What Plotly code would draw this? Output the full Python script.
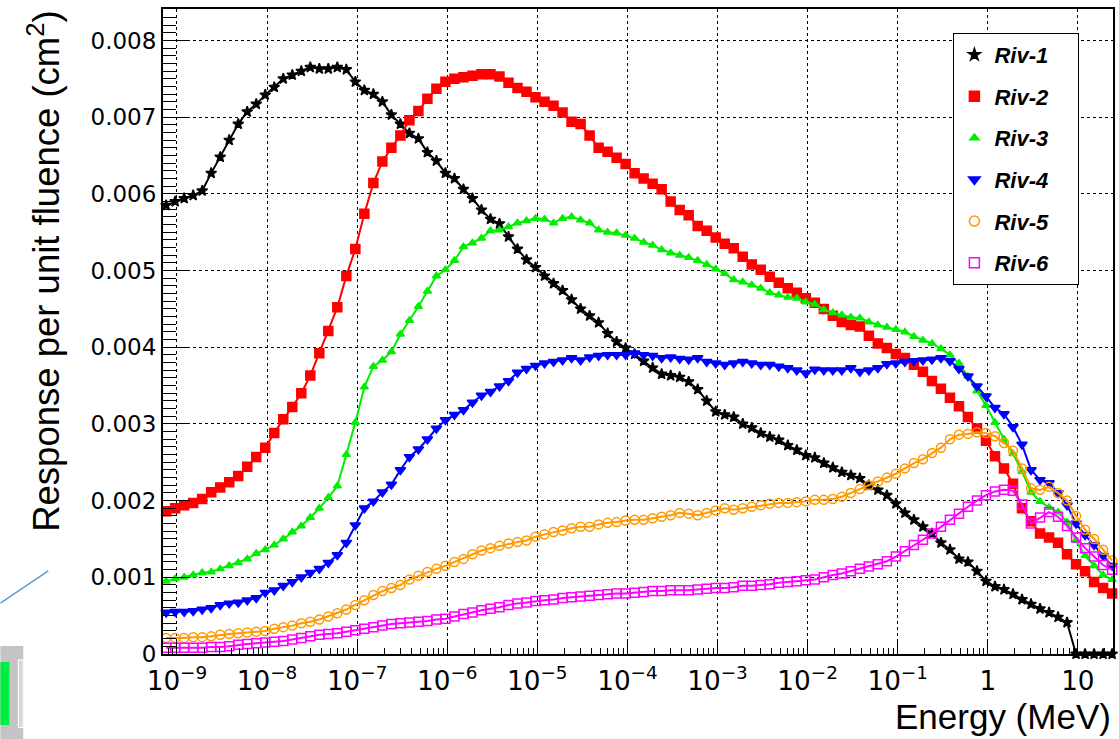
import plotly.graph_objects as go

# ---- data -------------------------------------------------------------
# energy grid (log10 of MeV), ~10 points per decade
LOG_E_START = -9.12
N_POINTS = 106
energy_mev = [10 ** round(LOG_E_START + 0.1 * i, 3) for i in range(N_POINTS)]

series_names = ["Riv-1", "Riv-2", "Riv-3", "Riv-4", "Riv-5", "Riv-6"]

riv1 = [0.00585, 0.0059, 0.00594, 0.00598, 0.00604, 0.00627, 0.00648, 0.0067, 0.00691, 0.00707,
        0.00717, 0.00729, 0.00739, 0.0075, 0.00755, 0.0076, 0.00765, 0.00763, 0.00763, 0.00765,
        0.00762, 0.00746, 0.00735, 0.0073, 0.0072, 0.00703, 0.00691, 0.00679, 0.00672, 0.00654,
        0.00643, 0.00627, 0.0062, 0.00606, 0.00594, 0.00579, 0.00567, 0.00561, 0.00544, 0.00528,
        0.00514, 0.00504, 0.00493, 0.00483, 0.00474, 0.00462, 0.0045, 0.00441, 0.00432, 0.00418,
        0.00407, 0.00399, 0.00391, 0.00382, 0.00373, 0.00365, 0.00363, 0.00361, 0.00355, 0.00345,
        0.0033, 0.00316, 0.00312, 0.00309, 0.003, 0.00295, 0.00288, 0.00283, 0.00279, 0.00272,
        0.00266, 0.00259, 0.00256, 0.00249, 0.00243, 0.00237, 0.00233, 0.00229, 0.0022, 0.00214,
        0.00207, 0.00196, 0.00184, 0.00175, 0.00166, 0.00157, 0.00145, 0.00136, 0.00124, 0.0012,
        0.00108, 0.00095, 0.00088, 0.00084, 0.00078, 0.00071, 0.00065, 0.00059, 0.00054, 0.00048,
        0.00041, 0.0, 0.0, 0.0, 0.0, 0.0]

riv2 = [0.00186, 0.0019, 0.00194, 0.00197, 0.00202, 0.00211, 0.00217, 0.00224, 0.00232, 0.00244,
        0.00257, 0.00269, 0.00288, 0.00306, 0.00322, 0.0034, 0.00363, 0.00392, 0.00421, 0.00452,
        0.00493, 0.00528, 0.00574, 0.00614, 0.00642, 0.0066, 0.00676, 0.00696, 0.00708, 0.00724,
        0.00737, 0.00746, 0.0075, 0.00752, 0.00754, 0.00756, 0.00756, 0.00753, 0.00745, 0.00738,
        0.00733, 0.00726, 0.0072, 0.00715, 0.00706, 0.00694, 0.00691, 0.00676, 0.0066, 0.00655,
        0.00647, 0.00639, 0.00627, 0.0062, 0.00613, 0.00606, 0.0059, 0.00579, 0.00572, 0.00558,
        0.00552, 0.00543, 0.00535, 0.00529, 0.00518, 0.00508, 0.00501, 0.00492, 0.00484, 0.00477,
        0.00471, 0.00464, 0.00458, 0.0045, 0.00441, 0.00433, 0.00429, 0.00427, 0.00415, 0.00405,
        0.00399, 0.00391, 0.00386, 0.00377, 0.00368, 0.00356, 0.00346, 0.00334, 0.00323, 0.00309,
        0.00294, 0.00278, 0.00258, 0.00242, 0.00222, 0.0019, 0.00173, 0.00157, 0.00152, 0.00145,
        0.0013, 0.00117, 0.00108, 0.00094, 0.00086, 0.00079]

riv3 = [0.00095, 0.00098, 0.001, 0.00103, 0.00106, 0.00107, 0.00111, 0.00115, 0.00119, 0.00124,
        0.00131, 0.00136, 0.00142, 0.0015, 0.00159, 0.00167, 0.00178, 0.0019, 0.00204, 0.00219,
        0.0026, 0.00302, 0.00348, 0.00375, 0.00383, 0.00394, 0.00417, 0.00435, 0.00453, 0.00473,
        0.00493, 0.00501, 0.00513, 0.00531, 0.00536, 0.00542, 0.00552, 0.00553, 0.00557, 0.00562,
        0.00565, 0.00568, 0.00567, 0.00562, 0.00568, 0.0057, 0.00566, 0.00562, 0.00553, 0.0055,
        0.00549, 0.00546, 0.00542, 0.00537, 0.00533, 0.00527, 0.00523, 0.0052, 0.00517, 0.00513,
        0.00508, 0.00502, 0.00496, 0.00488, 0.00485, 0.00481, 0.00477, 0.00471, 0.00468, 0.00465,
        0.00464, 0.00459, 0.00456, 0.00449, 0.00445, 0.00442, 0.00439, 0.00438, 0.00433, 0.00429,
        0.00426, 0.00423, 0.0042, 0.00414, 0.00409, 0.00405, 0.00398, 0.0039, 0.00379, 0.00362,
        0.00343, 0.00324, 0.00302, 0.0028, 0.00261, 0.00238, 0.00211, 0.00199, 0.00191, 0.00185,
        0.00172, 0.00148, 0.00128, 0.00115, 0.00103, 0.00097]

riv4 = [0.00054, 0.00055, 0.00055, 0.00056, 0.00058, 0.0006, 0.00064, 0.00066, 0.00067, 0.0007,
        0.00073, 0.0008, 0.00083, 0.00089, 0.00094, 0.001, 0.00106, 0.00111, 0.00119, 0.00129,
        0.00145, 0.00168, 0.0019, 0.00199, 0.00211, 0.00221, 0.0024, 0.00257, 0.00267, 0.0028,
        0.00294, 0.00305, 0.00312, 0.00318, 0.00328, 0.00337, 0.00342, 0.00349, 0.00356, 0.00367,
        0.00372, 0.00376, 0.00379, 0.00381, 0.00383, 0.00386, 0.00383, 0.00387, 0.00389, 0.0039,
        0.0039, 0.0039, 0.00392, 0.0039, 0.00389, 0.00386, 0.00387, 0.00385, 0.00384, 0.00386,
        0.00381, 0.00379, 0.00377, 0.00379, 0.00381, 0.00379, 0.00377, 0.00377, 0.00375, 0.00373,
        0.0037, 0.00366, 0.00371, 0.0037, 0.0037, 0.0037, 0.00373, 0.00368, 0.0037, 0.00373,
        0.00378, 0.00379, 0.00381, 0.00382, 0.00383, 0.00384, 0.00386, 0.00382, 0.00372, 0.00362,
        0.00349, 0.00336, 0.00321, 0.00313, 0.00296, 0.00273, 0.0024, 0.00227, 0.00223, 0.0021,
        0.00194, 0.0017, 0.00155, 0.00142, 0.00128, 0.00115]

riv5 = [0.00021, 0.00021, 0.00021, 0.00022, 0.00022, 0.00023, 0.00025, 0.00026, 0.00027, 0.00028,
        0.00029, 0.0003, 0.00033, 0.00035, 0.00037, 0.0004, 0.00042, 0.00045, 0.00049, 0.00053,
        0.00058, 0.00064, 0.0007, 0.00077, 0.00082, 0.00086, 0.0009, 0.00097, 0.00102, 0.00107,
        0.00111, 0.00115, 0.0012, 0.00124, 0.0013, 0.00135, 0.00138, 0.00141, 0.00144, 0.00146,
        0.00148, 0.00153, 0.00156, 0.00159, 0.00161, 0.00164, 0.00166, 0.00166, 0.00169, 0.00171,
        0.00172, 0.00174, 0.00175, 0.00175, 0.00177, 0.00179, 0.00181, 0.00184, 0.00183, 0.00181,
        0.00184, 0.00187, 0.0019, 0.00188, 0.0019, 0.00192, 0.00194, 0.00196, 0.00197, 0.00197,
        0.00198, 0.00199, 0.00201, 0.00201, 0.00202, 0.00205, 0.0021, 0.00215, 0.0022, 0.00225,
        0.0023, 0.00235, 0.00242, 0.00249, 0.00254, 0.00262, 0.00269, 0.0028, 0.00286, 0.00287,
        0.00289, 0.00288, 0.00284, 0.00275, 0.00265, 0.00242, 0.00216, 0.00214, 0.00218, 0.0021,
        0.002, 0.0018, 0.00162, 0.0015, 0.00136, 0.00122]

riv6 = [0.00008, 0.00008, 0.00008, 0.00008, 0.00008, 0.00009, 0.00009, 0.0001, 0.00012, 0.00013,
        0.00014, 0.00015, 0.00016, 0.00017, 0.00019, 0.00021, 0.00023, 0.00025, 0.00026, 0.00027,
        0.00029, 0.00031, 0.00033, 0.00035, 0.00037, 0.00039, 0.0004, 0.00041, 0.00042, 0.00043,
        0.00045, 0.00046, 0.00049, 0.00052, 0.00054, 0.00057, 0.00059, 0.00061, 0.00064, 0.00066,
        0.00067, 0.00069, 0.0007, 0.00071, 0.00073, 0.00074, 0.00075, 0.00076, 0.00077, 0.00078,
        0.00079, 0.00079, 0.0008, 0.00081, 0.00082, 0.00082, 0.00083, 0.00083, 0.00083, 0.00084,
        0.00085, 0.00086, 0.00086, 0.00087, 0.00089, 0.00089, 0.0009, 0.00091, 0.00093, 0.00094,
        0.00095, 0.00096, 0.00097, 0.001, 0.00103, 0.00105, 0.00108, 0.00111, 0.00114, 0.00117,
        0.00121, 0.00127, 0.00134, 0.00142, 0.00149, 0.00157, 0.00166, 0.00175, 0.00183, 0.00192,
        0.002, 0.00207, 0.00212, 0.00214, 0.00213, 0.00195, 0.0017, 0.00178, 0.00185, 0.00179,
        0.00167, 0.00152, 0.00138, 0.00127, 0.00116, 0.0011]

all_series = [riv1, riv2, riv3, riv4, riv5, riv6]

# ---- styles -----------------------------------------------------------
colors = ["#000000", "#ff0000", "#00ee00", "#0000ff", "#ff9900", "#ff00ff"]
symbols = ["star", "square", "triangle-up", "triangle-down", "circle-open", "square-open"]
msizes = [8, 9, 7, 9, 9, 9]

FONT = "Liberation Sans, Arial, Helvetica, sans-serif"
TICKFONT = "DejaVu Sans, Liberation Sans, sans-serif"

fig = go.Figure()
for i, (name, vals) in enumerate(zip(series_names, all_series)):
    fig.add_trace(go.Scatter(
        x=energy_mev, y=vals, mode="lines+markers", name=name,
        showlegend=False, cliponaxis=False,
        line=dict(color=colors[i], width=2),
        marker=dict(symbol=symbols[i], size=msizes[i], color=colors[i],
                    line=dict(color=colors[i], width=1.5)),
    ))
# legend entries: marker only (ROOT "p" style)
for i, name in enumerate(series_names):
    fig.add_trace(go.Scatter(
        x=[None], y=[None], mode="markers",
        name="<b><i>" + name + "</i></b>" + "\u00a0" * 4,
        legendgroup=name, showlegend=True,
        marker=dict(symbol=symbols[i], size=msizes[i] + 1, color=colors[i],
                    line=dict(color=colors[i], width=1.5)),
    ))

axis_common = dict(
    showline=True, linecolor="black", linewidth=2, mirror=True,
    ticks="inside", tickcolor="black", tickwidth=1,
    showgrid=True, gridcolor="black", griddash="dot", gridwidth=1,
    zeroline=False,
)

fig.update_layout(
    width=1119, height=739,
    margin=dict(l=163, r=4, t=9, b=85),
    paper_bgcolor="white", plot_bgcolor="white",
    font=dict(family=FONT, color="black"),
    xaxis=dict(type="log", range=[-9.155, 1.39], dtick=1, ticklen=12,
               exponentformat="power", ticklabelstandoff=4,
               tickfont=dict(family=TICKFONT, size=21, color="black"),
               minor=dict(ticks="inside", ticklen=6, dtick="D1", tickcolor="black",
                          showgrid=False),
               **axis_common),
    yaxis=dict(range=[0, 0.00841], dtick=0.001, tick0=0, ticklen=27, tickformat="~g",
               tickfont=dict(family=TICKFONT, size=23, color="black"),
               minor=dict(ticks="inside", ticklen=13, dtick=0.0001, tickcolor="black",
                          showgrid=False),
               **axis_common),
    legend=dict(x=0.832, y=0.963, xanchor="left", yanchor="top",
                bgcolor="white", bordercolor="black", borderwidth=1,
                font=dict(family=FONT, size=22, color="black"),
                tracegroupgap=10),
    annotations=[
        dict(text="Response per unit fluence (cm<sup>2</sup>)", textangle=-90,
             xref="paper", yref="paper", x=-0.126, y=1.0, xanchor="center", yanchor="top",
             showarrow=False, font=dict(family=FONT, size=36.5, color="black")),
        dict(text="Energy (MeV)", xref="paper", yref="paper", x=1.0, y=-0.097,
             xanchor="right", yanchor="middle", showarrow=False,
             font=dict(family=FONT, size=35, color="black")),
    ],
    shapes=[
        dict(type="line", xref="paper", yref="paper", x0=-0.1712, y0=0.079,
             x1=-0.1208, y1=0.1287, line=dict(color="#5b9bd5", width=1.5)),
        dict(type="rect", xref="paper", yref="paper", x0=-0.1712, y0=0.0124,
             x1=-0.1471, y1=-0.14, fillcolor="#c4c4c4", line=dict(width=0)),
        dict(type="rect", xref="paper", yref="paper", x0=-0.1712, y0=-0.0124,
             x1=-0.1618, y1=-0.1101, fillcolor="#00ee44", line=dict(width=0)),
        dict(type="rect", xref="paper", yref="paper", x0=-0.1523, y0=-0.009,
             x1=-0.1471, y1=-0.114, fillcolor="#d8d8d8", line=dict(color="white", width=1)),
    ],
)

fig.write_html(
    "out.html",
    config={"displayModeBar": False},
    post_script="document.body.style.margin='0';document.body.style.padding='0';"
                "document.body.style.overflow='hidden';",
)
